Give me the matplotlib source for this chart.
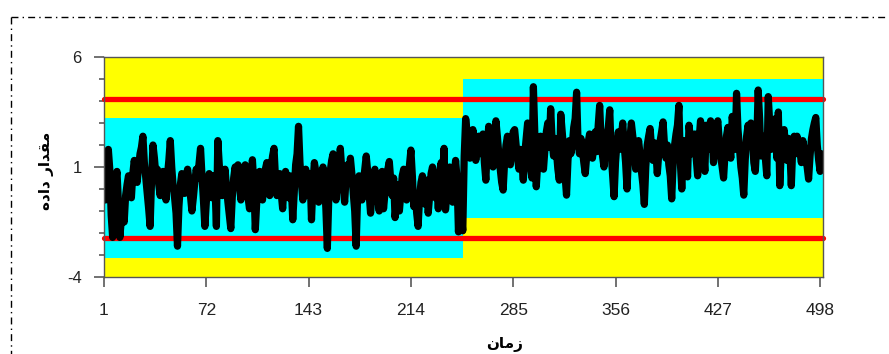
import matplotlib
matplotlib.use("Agg")
import matplotlib.pyplot as plt
from matplotlib.patches import Rectangle
from matplotlib.lines import Line2D
from matplotlib import font_manager

# series values (time 1..500)
seg1 = [
    0.2, -0.5, 1.2, 1.8, 0.9, -1.2, -2.2, -1.0, 0.3, 0.8,
    -0.6, -2.2, -1.4, -0.8, -1.5, -0.3, 0.2, 0.6, 0.1, -0.4,
    0.7, 1.3, 0.8, 0.3, 1.0, 1.6, 1.9, 2.4, 1.2, 0.5,
    -0.2, -0.9, -1.7, 0.4, 2.0, 1.4, 0.6, 0.9, 0.2, -0.3,
    0.4, 0.8, 0.3, -0.5, 0.6, 1.3, 2.2, 1.0, 0.1, -0.4,
    -1.1, -2.6, -0.8, 0.2, 0.7, 0.3, -0.2, 0.5, 0.9, 0.4,
    -0.3, -1.0, -0.4, 0.3, 0.9, 0.5, 1.2, 1.85, 0.6, -0.5,
    -1.7, -0.6, 0.2, 0.7, 0.3, -0.4, 0.6, 0.2, -1.7, 2.2,
    1.1, 0.4, -0.3, 0.5, 0.9, 0.1, -0.6, -1.2, -1.8, -0.4,
    0.5, 1.0, 0.6, 1.1, 0.2, -0.5, 0.4, 0.9, 1.1, 0.3,
    -0.4, -0.9, 0.3, 1.33, 0.2, -1.85, -0.6, 0.4, 0.8, 0.1,
    -0.5, 0.3, 0.9, 1.2, 0.4, -0.3, 1.0, 1.5, 1.85, 0.5,
    -0.3, 0.2, 0.7, -0.2, -0.9, 0.3, 0.8, 0.4, -0.4, 0.6,
    0.1, -1.4, -0.2, 1.1, 1.6, 2.85, 1.2, 0.3, -0.5, 0.5,
    0.9, 0.4, -0.3, 0.7, -1.4, 0.2, 1.2, 0.8, 0.1, -0.6,
    -0.2, 0.6, 1.0, 0.3, -0.9, -2.7, -0.4, 0.8, 1.3, 1.6,
    0.6, -0.5, 0.4, 1.0, 1.85, 0.9, 0.1, -0.6, 0.5, 1.1,
    0.4, 1.4, 0.7, -0.2, -1.0, -2.6, -0.3, 0.6, 0.2, -0.5,
    0.3, 0.9, 1.5, 0.8, -0.2, -1.1, -0.3, 0.6, 0.9, 0.2,
    -0.4, -1.0, 0.3, 0.8, -0.9, -0.2, 0.5, 0.9, 1.25, 0.4,
    -0.3, 0.5, -1.3, -0.6, 0.2, -1.0, -0.2, 0.6, 0.9, 0.1,
    -0.5, 0.4, 1.1, 1.77, 0.6, -0.8, -0.2, -1.1, -1.7, -0.4,
    0.3, 0.6, 0.0, -0.7, 0.4, -1.1, -0.3, 0.7, 1.0, 0.2,
    -0.4, 0.5, -0.9, 0.8, 1.2, 0.6, 1.85, -0.95, -0.2, 0.5,
    1.0, 0.3, -0.6, 0.4, 1.3, 0.5, -1.95, -0.7, -1.2, -1.9,
]
seg2 = [
    1.5, 3.2, 2.6, 2.2, 1.4, 2.0, 2.7, 2.3, 1.3, 1.8,
    2.4, 2.0, 1.6, 2.5, 1.2, 0.4, 1.9, 2.85, 2.1, 1.5,
    1.0, 2.2, 3.1, 2.4, 1.6, 0.9, 0.3, -0.05, 1.2, 2.0,
    2.4, 1.7, 1.1, 1.9, 2.6, 2.7, 2.0, 1.4, 0.9, 1.8,
    1.2, 0.4, 1.6, 2.3, 3.0, 2.2, 1.0, 0.5, 4.65, 2.5,
    0.1, 1.2, 2.0, 2.4, 1.5, 0.9, 1.8, 2.6, 3.0, 1.9,
    3.65, 2.2, 1.5, 2.3, 1.7, 0.9, 0.4, 3.4, 2.6, 1.8,
    0.6, -0.28, 1.3, 2.2, 1.6, 2.0, 2.8, 3.2, 4.4, 2.1,
    1.6, 2.3, 1.8, 1.2, 0.7, 1.5, 2.1, 2.5, 1.9, 1.4,
    2.0, 2.6, 1.7, 2.9, 3.8, 2.2, 1.5, 1.0, 1.9, 2.4,
    2.8, 3.6, 1.6, 0.6, -0.35, 1.2, 2.1, 2.6, 1.8, 2.3,
    3.0, 2.0, 1.2, 0.0, 1.5, 2.3, 3.0, 2.4, 1.7, 0.9,
    1.5, 2.2, 1.6, 0.8, 0.2, -0.7, 1.0, 2.0, 2.4, 2.75,
    1.9, 1.3, 2.1, 1.7, 0.7, 1.6, 2.2, 2.6, 3.05, 2.0,
    1.4, 2.0, 1.1, 0.6, -0.45, 1.2, 2.0, 2.5, 2.9, 3.8,
    1.2, 0.0, 1.6, 2.2, 1.5, 0.55, 2.9, 2.3, 1.6, 2.1,
    2.5, 1.4, 0.6, 2.2, 3.1, 2.6, 1.7, 0.8, 2.9, 2.4,
    1.8, 3.1, 2.5, 1.2, 2.0, 2.8, 3.1, 2.2, 1.5, 1.0,
    0.5, 1.6, 2.4, 2.8, 2.0, 1.4, 3.3, 2.6, 1.8, 4.35,
    2.7, 1.9, 1.0, 0.5, -0.28, 1.3, 2.4, 2.9, 2.2, 3.0,
    2.3, 1.2, 0.8, 2.0, 4.5, 3.2, 1.5, 2.4, 2.0, 1.4,
    0.6, 4.2, 3.0, 1.8, 2.6, 2.1, 3.2, 1.4, 3.5, 0.15,
    1.6, 2.2, 2.7, 2.0, 1.3, 2.3, 1.8, 0.15, 1.9, 2.4,
    1.6, 2.4, 2.1, 1.7, 1.2, 2.2, 1.8, 1.4, 1.0, 0.45,
    1.5, 2.3, 2.7, 3.0, 3.25, 2.0, 1.3, 0.8, 1.6, 1.35,
]
values = seg1 + seg2
time = list(range(1, len(values) + 1))

# control limits and the two bands (lower, upper, start, end)
limits = [4.09, -2.23]
bands = [(-3.14, 3.23, 1, 250), (-1.3, 5.0, 250, 500)]

xticks = [1, 72, 143, 214, 285, 356, 427, 498]
yticks_major = [-4, 1, 6]
yticks_minor = list(range(-4, 7))

# arabic labels, pre-shaped (presentation forms, visual order)
ylabel = "\uFEE9\uFEA9\uFE8D\uFEA9 \uFEAD\uFE8D\uFEAA\uFED8\uFEE3"   # مقدار داده
xlabel = "\uFEE5\uFE8E\uFEE3\uFEAF"                                    # زمان

narrow = "Liberation Sans"
try:
    font_manager.findfont(font_manager.FontProperties(family="Liberation Sans Narrow"),
                          fallback_to_default=False)
    narrow = "Liberation Sans Narrow"
except Exception:
    pass

fig = plt.figure(figsize=(8.89, 3.54), dpi=100)
ax = fig.add_axes([104 / 889, 1 - 277 / 354, 719 / 889, 220 / 354])
ax.set_facecolor("#ffff00")

for lo, hi, x0, x1 in bands:
    ax.add_patch(Rectangle((x0, lo), x1 - x0, hi - lo, color="#00ffff", lw=0, zorder=1))

for y in limits:
    ax.plot([1, 500], [y, y], color="#ff0000", lw=3.8, solid_capstyle="round",
            clip_on=False, zorder=2)

ax.plot(time, values, color="black", lw=5.2, solid_joinstyle="round",
        solid_capstyle="round", zorder=3)

ax.set_xlim(1, 500)
ax.set_ylim(-4, 6)

for s in ax.spines.values():
    s.set_color("#555555")
    s.set_linewidth(1.0)
    s.set_zorder(4)

ax.set_xticks(xticks)
ax.set_xticklabels([str(t) for t in xticks], family=narrow, fontsize=12.5, color="#222222")
ax.set_yticks(yticks_major)
ax.set_yticklabels([str(t) for t in yticks_major], family="Liberation Sans",
                   fontsize=12, color="#222222")
ax.set_yticks(yticks_minor, minor=True)
ax.tick_params(axis="x", length=7, width=1.3, color="#666666", pad=12)
ax.tick_params(axis="y", which="major", length=7, width=1.3, color="#666666", pad=9)
ax.tick_params(axis="y", which="minor", length=3.6, width=1.3, color="#666666")

fig.text(46 / 889, 1 - 171 / 354, ylabel, rotation=90, ha="center", va="center",
         family="DejaVu Sans", fontweight="bold", fontsize=11)
fig.text(505 / 889, 1 - 344 / 354, xlabel, ha="center", va="center",
         family="DejaVu Sans", fontweight="bold", fontsize=11)

# dash-dot frame around the figure (top and left edges visible)
frame = dict(color="black", lw=1.0, linestyle=(0, (5, 3, 1, 3)))
fig.add_artist(Line2D([11 / 889, 1.0], [1 - 17 / 354, 1 - 17 / 354],
                      transform=fig.transFigure, **frame))
fig.add_artist(Line2D([11 / 889, 11 / 889], [1 - 17 / 354, 0.0],
                      transform=fig.transFigure, **frame))

fig.savefig("out.png", dpi=100)
